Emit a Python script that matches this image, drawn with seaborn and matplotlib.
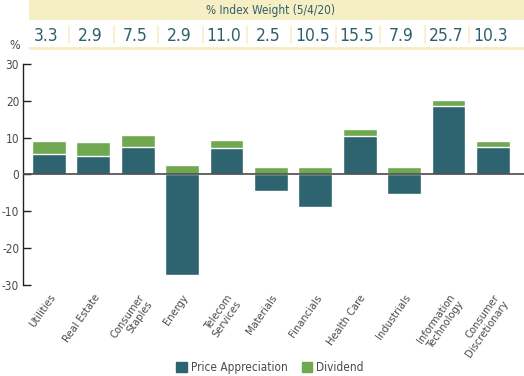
import numpy as np
import pandas as pd
import matplotlib
matplotlib.use("Agg")
import matplotlib.pyplot as plt
import matplotlib.transforms as mtransforms
from matplotlib.patches import Rectangle, Patch
import seaborn as sns

# data
sectors = ["Utilities", "Real Estate", "Consumer\nStaples", "Energy", "Telecom\nServices",
           "Materials", "Financials", "Health Care", "Industrials", "Information\nTechnology",
           "Consumer\nDiscretionary"]
price_appreciation = [5.5, 5.1, 7.5, -27.2, 7.3, -4.5, -8.9, 10.4, -5.4, 18.7, 7.5]
dividend = [3.6, 3.6, 3.2, 2.6, 2.1, 1.9, 2.0, 2.0, 2.0, 1.6, 1.6]
index_weight = ["3.3", "2.9", "7.5", "2.9", "11.0", "2.5", "10.5", "15.5", "7.9", "25.7", "10.3"]

teal = "#2e6470"
green = "#70a84f"
beige = "#f6efc6"
num_color = "#2f5f6a"
grey = "#4a4a4a"

sns.set_style("white")
plt.rcParams['font.family'] = ['DejaVu Sans']
plt.rcParams['font.stretch'] = 'condensed'
plt.rcParams['axes.unicode_minus'] = False

df = pd.DataFrame({"sector": sectors, "price": price_appreciation, "dividend": dividend})
df["top"] = df["price"].clip(lower=0) + df["dividend"]

fig = plt.figure(figsize=(5.24, 3.76), dpi=100)
ax = fig.add_axes([0.0433, 0.242, 0.9567, 0.588])

# green drawn to the stack top, teal price bar over it
sns.barplot(data=df, x="sector", y="top", color=green, saturation=1, width=0.765, ax=ax)
sns.barplot(data=df, x="sector", y="price", color=teal, saturation=1, width=0.765, ax=ax)

ax.set_ylim(-30, 30)
ax.set_xlim(-0.59, 10.7)
ax.set_yticks(np.arange(-30, 31, 10))
ax.axhline(0, color=grey, lw=1.2, zorder=3)
for s in ["top", "right", "bottom"]:
    ax.spines[s].set_visible(False)
ax.spines["left"].set_color("#222222")
ax.spines["left"].set_linewidth(1.0)
ax.tick_params(axis="y", left=True, direction="in", length=6, width=1, color="#222222",
               labelsize=8.5, labelcolor=grey, pad=2.5)
ax.tick_params(axis="x", bottom=False, labelsize=8, labelcolor=grey, pad=2)
ax.set_xlabel("")
ax.set_ylabel("")
for lbl in ax.get_xticklabels():
    lbl.set_rotation(55)
    lbl.set_ha("right")
    lbl.set_va("top")
    lbl.set_rotation_mode("anchor")
    lbl.set_linespacing(1.1)

# % label above axis
fig.text(0.029, 0.879, "%", fontsize=9, color=grey, ha="center", va="center")

# index weight banner
trans = mtransforms.blended_transform_factory(ax.transData, fig.transFigure)
x0, x1 = -0.45, 10.75
fig.patches.append(Rectangle((x0, 0.947), x1 - x0, 0.053, transform=trans,
                             facecolor=beige, edgecolor="none"))
fig.patches.append(Rectangle((x0, 0.868), x1 - x0, 0.006, transform=trans,
                             facecolor=beige, edgecolor="none"))
fig.text(5.0, 0.973, "% Index Weight (5/4/20)", transform=trans, fontsize=8.5,
         color=num_color, ha="center", va="center")
for i, w in enumerate(index_weight):
    fig.text(i - 0.06, 0.905, w, transform=trans, fontsize=12.5, color=num_color,
             ha="center", va="center")
    if i < len(index_weight) - 1:
        fig.add_artist(plt.Line2D([i + 0.46, i + 0.46], [0.885, 0.93], transform=trans,
                                  color=beige, lw=1.2))

handles = [Patch(color=teal, label="Price Appreciation"), Patch(color=green, label="Dividend")]
fig.legend(handles=handles, loc="center", bbox_to_anchor=(0.515, 0.022), ncol=2,
           frameon=False, fontsize=8.5, handlelength=0.9, handleheight=0.9,
           handletextpad=0.3, columnspacing=1.2, labelcolor=grey)

fig.savefig("out.png", dpi=100)
